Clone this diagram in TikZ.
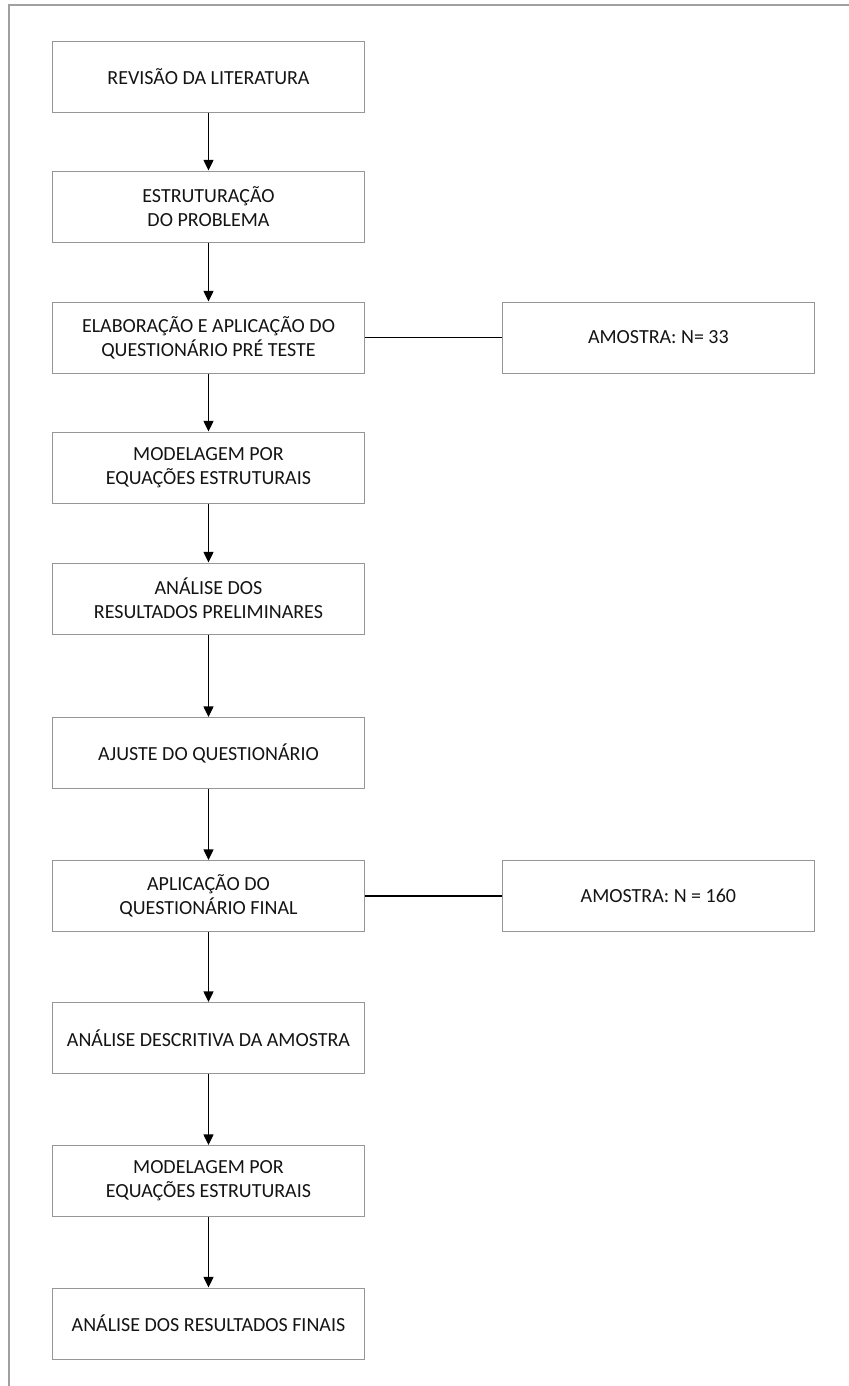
\documentclass[tikz,border=0pt]{standalone}
\usepackage{fontspec}
\setmainfont{Carlito}
\usetikzlibrary{arrows.meta}
\definecolor{framegray}{RGB}{160,160,160}
\definecolor{boxgray}{RGB}{150,150,150}
\definecolor{txt}{RGB}{20,20,20}
\tikzset{
  stepbox/.style={draw=boxgray, line width=0.75pt, fill=white, minimum width=234pt, minimum height=53.25pt,
    inner sep=0pt, align=center, text=txt, font=\fontsize{15}{18}\selectfont},
  flowarrow/.style={draw=black, line width=1pt, -{Triangle[width=7.5pt,length=8pt]}},
  sideline/.style={draw=black, line width=0.9pt},
  frameline/.style={draw=framegray, line width=0.9pt}
}
\begin{document}
\begin{tikzpicture}[x=0.75pt,y=-0.75pt]
\useasboundingbox (0,0) rectangle (849,1386);
\coordinate (fc) at (9,5);
\coordinate (fr) at (849,5);
\coordinate (fb) at (9,1386);
\draw[frameline] (fr) -- (fc) -- (fb);

\node[stepbox] (b1) at (208.5,76.5) {REVISÃO DA LITERATURA};
\node[stepbox] (b2) at (208.5,206.5) {ESTRUTURAÇÃO\\DO PROBLEMA};
\node[stepbox] (b3) at (208.5,337.5) {ELABORAÇÃO E APLICAÇÃO DO\\QUESTIONÁRIO PRÉ TESTE};
\node[stepbox] (b4) at (208.5,467.5) {MODELAGEM POR\\EQUAÇÕES ESTRUTURAIS};
\node[stepbox] (b5) at (208.5,598.5) {ANÁLISE DOS\\RESULTADOS PRELIMINARES};
\node[stepbox] (b6) at (208.5,753) {AJUSTE DO QUESTIONÁRIO};
\node[stepbox] (b7) at (208.5,896) {APLICAÇÃO DO\\QUESTIONÁRIO FINAL};
\node[stepbox] (b8) at (208.5,1038) {ANÁLISE DESCRITIVA DA AMOSTRA};
\node[stepbox] (b9) at (208.5,1181) {MODELAGEM POR\\EQUAÇÕES ESTRUTURAIS};
\node[stepbox] (b10) at (208.5,1323.5) {ANÁLISE DOS RESULTADOS FINAIS};

\node[stepbox] (s1) at (658.4,337.5) {AMOSTRA: N= 33};
\node[stepbox] (s2) at (658.4,896) {AMOSTRA: N = 160};

\foreach \a/\b in {b1/b2,b2/b3,b3/b4,b4/b5,b5/b6,b6/b7,b7/b8,b8/b9,b9/b10}
  \draw[flowarrow] (\a.south) -- (\b.north);
\draw[sideline] (b3.east) -- (s1.west);
\draw[sideline] (b7.east) -- (s2.west);
\end{tikzpicture}
\end{document}
